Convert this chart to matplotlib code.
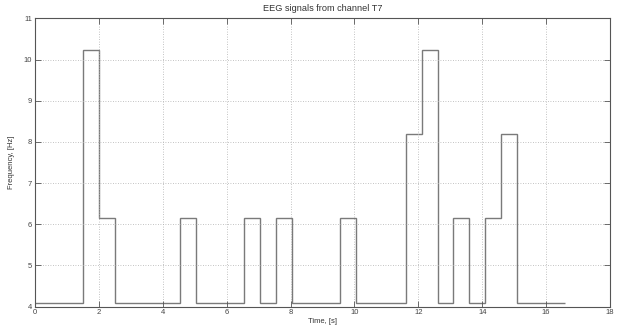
import numpy as np
import matplotlib
matplotlib.use("Agg")
from matplotlib import pyplot as plt

# Segmentgrenzen (s) und Frequenzstufen (Hz)
edges = [0.0, 1.5, 2.0, 2.5, 4.55, 5.05, 6.55, 7.05, 7.55, 8.05, 9.55,
         10.05, 11.6, 12.1, 12.6, 13.1, 13.6, 14.1, 14.6, 15.1, 16.6]
freq = [4.096, 10.24, 6.144, 4.096, 6.144, 4.096, 6.144, 4.096, 6.144, 4.096,
        6.144, 4.096, 8.192, 10.24, 4.096, 6.144, 4.096, 6.144, 8.192, 4.096]

xticks = [0, 2, 4, 6, 8, 10, 12, 14, 16, 18]
yticks = [4, 5, 6, 7, 8, 9, 10, 11]

plt.rcParams['font.family'] = 'Liberation Sans'
plt.rcParams['font.size'] = 5.5

fig = plt.figure(figsize=(6.17, 3.29), dpi=100)
ax = fig.add_axes([0.0567, 0.068, 0.932, 0.876])

ax.stairs(freq, edges, color='#7a7a7a', linewidth=1.0, baseline=None)

ax.set_xlim(0, 18)
ax.set_ylim(4, 11)
ax.set_xticks(xticks)
ax.set_yticks(yticks)
ax.grid(True, linestyle=(0, (1, 2)), color='#b0b0b0', linewidth=0.6)
ax.tick_params(direction='in', top=True, right=True, length=4, width=0.6,
               colors='#555555', labelcolor='#444444', pad=2)
for s in ax.spines.values():
    s.set_color('#555555')
    s.set_linewidth(0.8)

ax.set_xlabel("Time, [s]", color='#333333', labelpad=1)
ax.set_ylabel("Frequency, [Hz]", color='#333333', labelpad=6)
ax.set_title("EEG signals from channel T7", color='#333333', pad=5)

fig.savefig("out.png", dpi=100)
